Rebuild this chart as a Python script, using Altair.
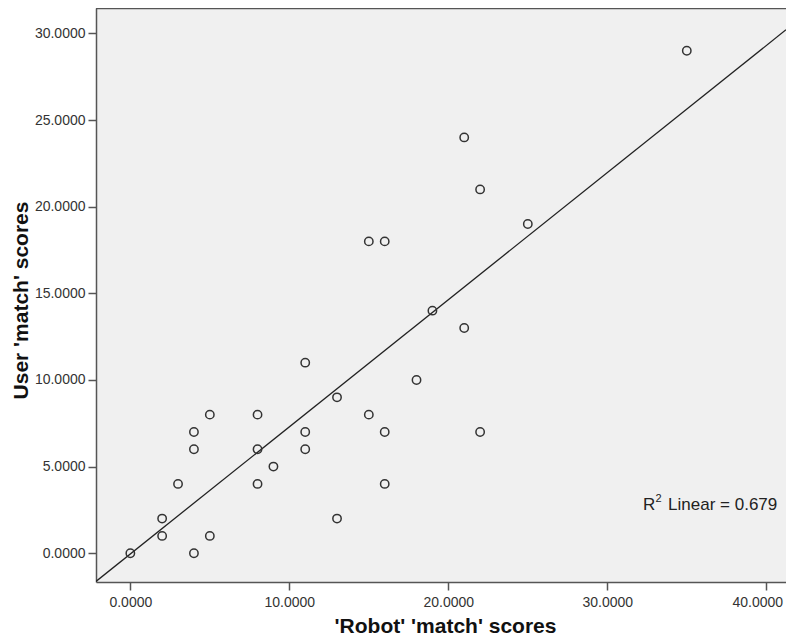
import altair as alt
import pandas as pd

robot = [0, 2, 2, 3, 4, 4, 4, 5, 5, 8, 8, 8, 9, 11, 11, 11, 13, 13, 15, 16, 16,
         18, 19, 15, 16, 21, 22, 25, 35, 21, 22]
user = [0, 2, 1, 4, 7, 6, 0, 8, 1, 8, 6, 4, 5, 11, 7, 6, 9, 2, 8, 7, 4,
        10, 14, 18, 18, 24, 21, 19, 29, 13, 7]
x_ticks = [0, 10, 20, 30, 40]
y_ticks = [0, 5, 10, 15, 20, 25, 30]
r2_value = "0.679"

X_DOM = [-2.16, 41.24]
Y_DOM = [-1.66, 31.47]
W, H = 690, 574

df = pd.DataFrame({"robot": robot, "user": user})

xs = alt.Scale(domain=X_DOM, nice=False, zero=False)
ys = alt.Scale(domain=Y_DOM, nice=False, zero=False)

FONT = "Liberation Sans"
common = dict(grid=False, tickSize=8, labelFontSize=14, labelColor="#333333",
              labelFont=FONT, titleFont=FONT, titleFontWeight="bold",
              titleColor="#111111", domainColor="#555555", tickColor="#555555",
              domainWidth=1.5, tickWidth=1.5)

x_axis = alt.Axis(values=x_ticks, format=".4f", title="'Robot' 'match' scores",
                  labelPadding=5, titleFontSize=21, titleX=349, titleY=50,
                  titleBaseline="alphabetic", titleAnchor="middle",
                  labelOffset={"expr": "datum.value == 40 ? -9 : 0"}, **common)
y_axis = alt.Axis(values=y_ticks, format=".4f", title="User 'match' scores",
                  labelPadding=3, titleFontSize=21, titleX=-75, titleY=292,
                  titleBaseline="middle", titleAnchor="middle", **common)

points = alt.Chart(df).mark_point(
    shape="circle", filled=False, size=70, stroke="#333333", strokeWidth=1.5,
    opacity=1
).encode(
    x=alt.X("robot:Q", scale=xs, axis=x_axis),
    y=alt.Y("user:Q", scale=ys, axis=y_axis),
)

line = alt.Chart(df).transform_regression(
    "robot", "user", extent=X_DOM
).mark_line(color="#222222", strokeWidth=1.3, clip=True).encode(
    x=alt.X("robot:Q", scale=xs),
    y=alt.Y("user:Q", scale=ys),
)

top = alt.Chart(pd.DataFrame({"y": [Y_DOM[1]]})).mark_rule(
    color="#555555", strokeWidth=2.5
).encode(y=alt.Y("y:Q", scale=ys), x=alt.value(0), x2=alt.value(W))

lab_df = pd.DataFrame({"x": [32.25], "y": [2.79]})
lab_base = alt.Chart(lab_df).encode(x=alt.X("x:Q", scale=xs), y=alt.Y("y:Q", scale=ys))
lab_r = lab_base.mark_text(align="left", baseline="middle", font=FONT,
                           fontSize=17, color="#222222", text="R")
lab_2 = lab_base.mark_text(align="left", baseline="middle", font=FONT,
                           fontSize=11, color="#222222", text="2", dx=12.5, dy=-6)
lab_rest = lab_base.mark_text(align="left", baseline="middle", font=FONT,
                              fontSize=17, color="#222222",
                              text="Linear = " + r2_value, dx=25)

chart = alt.layer(line, points, top, lab_r, lab_2, lab_rest).properties(
    width=W, height=H,
    autosize=alt.AutoSizeParams(type="none"),
    padding={"left": 88, "top": 0, "right": 0, "bottom": 54},
    background="white",
).configure_view(fill="#F0F0F0", stroke=None)

chart.save("out.html", embed_options={"renderer": "svg", "actions": False})
